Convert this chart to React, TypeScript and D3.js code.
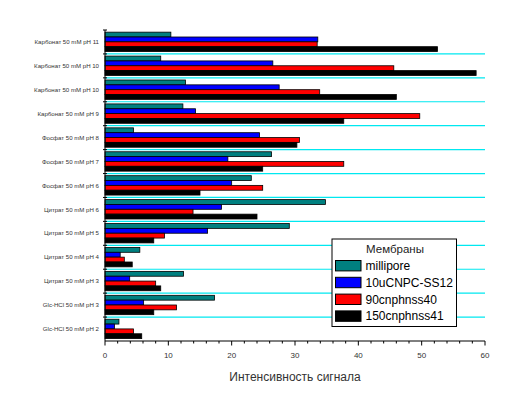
import { useEffect, useRef } from 'react'
import * as d3 from 'd3'

const categories = [
  'Карбонат 50 mM pH 11',
  'Карбонат 50 mM pH 10',
  'Карбонат 50 mM pH 10',
  'Карбонат 50 mM pH 9',
  'Фосфат 50 mM pH 8',
  'Фосфат 50 mM pH 7',
  'Фосфат 50 mM pH 6',
  'Цитрат 50 mM pH 6',
  'Цитрат 50 mM pH 5',
  'Цитрат 50 mM pH 4',
  'Цитрат 50 mM pH 3',
  'Glc-HCl 50 mM pH 3',
  'Glc-HCl 50 mM pH 2',
]

const seriesNames = ['millipore', '10uCNPC-SS12', '90cnphnss40', '150cnphnss41']
const seriesColors = ['#008080', '#0000ff', '#ff0000', '#000000']

const millipore = [10.4, 8.8, 12.7, 12.3, 4.5, 26.3, 23.1, 34.8, 29.1, 5.5, 12.4, 17.3, 2.2]
const cnpc = [33.6, 26.5, 27.5, 14.3, 24.4, 19.4, 20.0, 18.4, 16.2, 2.4, 3.9, 6.1, 1.5]
const cnph40 = [33.5, 45.6, 33.9, 49.7, 30.7, 37.7, 24.9, 13.9, 9.4, 3.05, 8.0, 11.3, 4.5]
const cnph41 = [52.5, 58.6, 46.0, 37.7, 30.3, 24.9, 15.0, 24.0, 7.7, 4.3, 8.8, 7.7, 5.8]
const series = [millipore, cnpc, cnph40, cnph41]

const xTicks = [0, 10, 20, 30, 40, 50, 60]

const W = 518
const H = 414
const M = { top: 30, right: 33, bottom: 73, left: 105 }
const FONT = 'Arial, "Liberation Sans", sans-serif'

export default function App() {
  const ref = useRef<SVGSVGElement>(null)

  useEffect(() => {
    if (!ref.current) return
    const svg = d3.select(ref.current)
    svg.selectAll('*').remove()

    const x0 = M.left
    const x1 = W - M.right
    const y0 = M.top
    const y1 = H - M.bottom

    const x = d3.scaleLinear().domain([0, 60]).range([x0, x1])
    const y = d3.scaleBand<number>()
      .domain(categories.map((_c, i) => i))
      .range([y0, y1])
      .padding(0)
    const bw = y.bandwidth()
    const sub = d3.scaleBand<number>()
      .domain(series.map((_s, i) => i))
      .range([bw * 0.09, bw * 0.9])
      .padding(0)

    // ── cyan separators ─────────────────────────────────────────────
    svg.append('g')
      .selectAll('line')
      .data(categories.slice(1).map((_c, i) => i + 1))
      .join('line')
      .attr('x1', x0)
      .attr('x2', x1)
      .attr('y1', d => y(d)!)
      .attr('y2', d => y(d)!)
      .attr('stroke', '#00e8f0')
      .attr('stroke-width', 1.2)

    // ── bars ────────────────────────────────────────────────────────
    const rows = svg.append('g')
      .selectAll('g')
      .data(categories.map((_c, i) => i))
      .join('g')
      .attr('transform', d => `translate(0,${y(d)})`)

    rows.selectAll('rect')
      .data(ci => series.map((s, si) => ({ si, v: s[ci] })))
      .join('rect')
      .attr('x', x(0))
      .attr('y', d => sub(d.si)!)
      .attr('width', d => x(d.v) - x(0))
      .attr('height', sub.bandwidth())
      .attr('fill', d => seriesColors[d.si])
      .attr('stroke', '#000')
      .attr('stroke-width', 0.8)

    // ── y axis ──────────────────────────────────────────────────────
    const yAx = svg.append('g')
    yAx.append('line')
      .attr('x1', x0).attr('x2', x0)
      .attr('y1', y0).attr('y2', y1)
      .attr('stroke', '#000')
    yAx.selectAll('line.tk')
      .data(categories.map((_c, i) => i))
      .join('line')
      .attr('class', 'tk')
      .attr('x1', x0 - 2).attr('x2', x0 + 2)
      .attr('y1', d => y(d)!).attr('y2', d => y(d)!)
      .attr('stroke', '#000')
    yAx.selectAll('text')
      .data(categories)
      .join('text')
      .attr('x', x0 - 6)
      .attr('y', (_d, i) => y(i)! + bw / 2)
      .attr('dy', '0.35em')
      .attr('text-anchor', 'end')
      .attr('font-family', FONT)
      .attr('font-size', 6.1)
      .attr('fill', '#333')
      .text(d => d)

    // ── x axis ──────────────────────────────────────────────────────
    const xAx = svg.append('g')
    xAx.append('line')
      .attr('x1', x0).attr('x2', x1)
      .attr('y1', y1).attr('y2', y1)
      .attr('stroke', '#000')
    xAx.selectAll('line.minor')
      .data(d3.range(0, 61, 2).filter(v => v % 10 !== 0))
      .join('line')
      .attr('class', 'minor')
      .attr('x1', d => x(d)).attr('x2', d => x(d))
      .attr('y1', y1).attr('y2', y1 + 2.5)
      .attr('stroke', '#000')
    xAx.selectAll('line.major')
      .data(xTicks)
      .join('line')
      .attr('class', 'major')
      .attr('x1', d => x(d)).attr('x2', d => x(d))
      .attr('y1', y1).attr('y2', y1 + 4.5)
      .attr('stroke', '#000')
    xAx.selectAll('text')
      .data(xTicks)
      .join('text')
      .attr('x', d => x(d))
      .attr('y', y1 + 14)
      .attr('dy', '0.35em')
      .attr('text-anchor', 'middle')
      .attr('font-family', FONT)
      .attr('font-size', 8)
      .attr('fill', '#333')
      .text(d => d)

    svg.append('text')
      .attr('x', (x0 + x1) / 2)
      .attr('y', y1 + 36)
      .attr('dy', '0.35em')
      .attr('text-anchor', 'middle')
      .attr('font-family', FONT)
      .attr('font-size', 12)
      .attr('fill', '#333')
      .text('Интенсивность сигнала')

    // ── legend ──────────────────────────────────────────────────────
    const lg = svg.append('g').attr('transform', 'translate(332,239)')
    lg.append('rect')
      .attr('width', 124.5).attr('height', 87.5)
      .attr('fill', '#fff')
      .attr('stroke', '#000')
    lg.append('text')
      .attr('x', 63).attr('y', 10)
      .attr('dy', '0.35em')
      .attr('text-anchor', 'middle')
      .attr('font-family', FONT)
      .attr('font-size', 11.5)
      .attr('fill', '#222')
      .text('Мембраны')
    const items = lg.selectAll('g.it')
      .data(seriesNames)
      .join('g')
      .attr('class', 'it')
      .attr('transform', (_d, i) => `translate(0,${26.7 + i * 16.8})`)
    items.append('rect')
      .attr('x', 3.5).attr('y', -5.2)
      .attr('width', 25.5).attr('height', 10.4)
      .attr('fill', (_d, i) => seriesColors[i])
      .attr('stroke', '#000')
    items.append('text')
      .attr('x', 33.5)
      .attr('dy', '0.36em')
      .attr('font-family', FONT)
      .attr('font-size', 12)
      .attr('fill', '#000')
      .text(d => d)
  }, [])

  return (
    <svg
      ref={ref}
      width={W}
      height={H}
      viewBox={`0 0 ${W} ${H}`}
      style={{ position: 'absolute', left: 0, top: 0, background: '#fff' }}
    />
  )
}
